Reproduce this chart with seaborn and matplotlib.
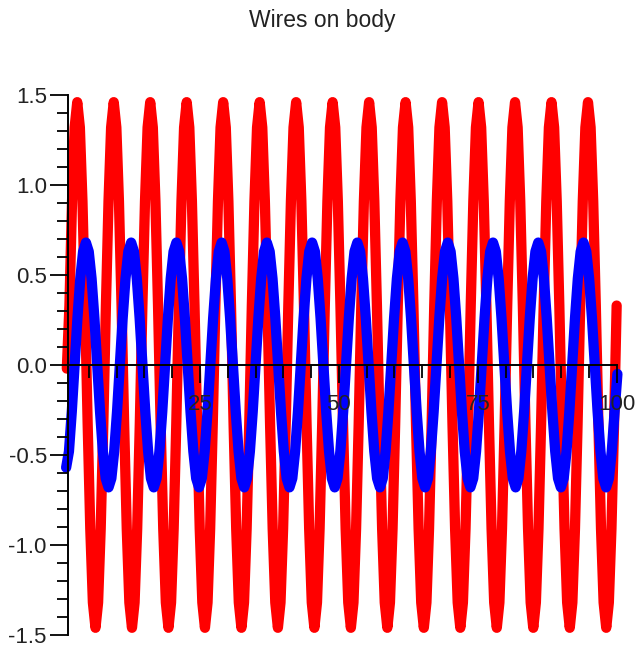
import numpy as np
import pandas as pd
import matplotlib
matplotlib.use("Agg")
import matplotlib.pyplot as plt
from matplotlib.ticker import MultipleLocator
import seaborn as sns

# ---- data ----
title = "Wires on body"

# red trace: sample range along the horizontal axis and sampled values
red_t_start, red_t_end = 1.044, 99.99
red_y = [
    -0.02, 0.33, 0.91, 1.32,
    1.46, 1.32, 0.91, 0.33, -0.33, -0.91, -1.32, -1.46, -1.32, -0.91, -0.33, 0.33, 0.91, 1.32,
    1.46, 1.32, 0.91, 0.33, -0.33, -0.91, -1.32, -1.46, -1.32, -0.91, -0.33, 0.33, 0.91, 1.32,
    1.46, 1.32, 0.91, 0.33, -0.33, -0.91, -1.32, -1.46, -1.32, -0.91, -0.33, 0.33, 0.91, 1.32,
    1.46, 1.32, 0.91, 0.33, -0.33, -0.91, -1.32, -1.46, -1.32, -0.91, -0.33, 0.33, 0.91, 1.32,
    1.46, 1.32, 0.91, 0.33, -0.33, -0.91, -1.32, -1.46, -1.32, -0.91, -0.33, 0.33, 0.91, 1.32,
    1.46, 1.32, 0.91, 0.33, -0.33, -0.91, -1.32, -1.46, -1.32, -0.91, -0.33, 0.33, 0.91, 1.32,
    1.46, 1.32, 0.91, 0.33, -0.33, -0.91, -1.32, -1.46, -1.32, -0.91, -0.33, 0.33, 0.91, 1.32,
    1.46, 1.32, 0.91, 0.33, -0.33, -0.91, -1.32, -1.46, -1.32, -0.91, -0.33, 0.33, 0.91, 1.32,
    1.46, 1.32, 0.91, 0.33, -0.33, -0.91, -1.32, -1.46, -1.32, -0.91, -0.33, 0.33, 0.91, 1.32,
    1.46, 1.32, 0.91, 0.33, -0.33, -0.91, -1.32, -1.46, -1.32, -0.91, -0.33, 0.33, 0.91, 1.32,
    1.46, 1.32, 0.91, 0.33, -0.33, -0.91, -1.32, -1.46, -1.32, -0.91, -0.33, 0.33, 0.91, 1.32,
    1.46, 1.32, 0.91, 0.33, -0.33, -0.91, -1.32, -1.46, -1.32, -0.91, -0.33, 0.33, 0.91, 1.32,
    1.46, 1.32, 0.91, 0.33, -0.33, -0.91, -1.32, -1.46, -1.32, -0.91, -0.33, 0.33, 0.91, 1.32,
    1.46, 1.32, 0.91, 0.33, -0.33, -0.91, -1.32, -1.46, -1.32, -0.91, -0.33, 0.33, 0.91, 1.32,
    1.46, 1.32, 0.91, 0.33, -0.33, -0.91, -1.32, -1.46, -1.32, -0.91, -0.33, 0.33,
]

# blue trace
blue_t_start, blue_t_end = 0.919, 100.125
blue_y = [
    -0.57, -0.48, -0.26, 0.0, 0.26, 0.48, 0.63,
    0.68, 0.63, 0.48, 0.26, 0.0, -0.26, -0.48, -0.63, -0.68, -0.63, -0.48, -0.26, 0.0, 0.26, 0.48, 0.63,
    0.68, 0.63, 0.48, 0.26, 0.0, -0.26, -0.48, -0.63, -0.68, -0.63, -0.48, -0.26, 0.0, 0.26, 0.48, 0.63,
    0.68, 0.63, 0.48, 0.26, 0.0, -0.26, -0.48, -0.63, -0.68, -0.63, -0.48, -0.26, 0.0, 0.26, 0.48, 0.63,
    0.68, 0.63, 0.48, 0.26, 0.0, -0.26, -0.48, -0.63, -0.68, -0.63, -0.48, -0.26, 0.0, 0.26, 0.48, 0.63,
    0.68, 0.63, 0.48, 0.26, 0.0, -0.26, -0.48, -0.63, -0.68, -0.63, -0.48, -0.26, 0.0, 0.26, 0.48, 0.63,
    0.68, 0.63, 0.48, 0.26, 0.0, -0.26, -0.48, -0.63, -0.68, -0.63, -0.48, -0.26, 0.0, 0.26, 0.48, 0.63,
    0.68, 0.63, 0.48, 0.26, 0.0, -0.26, -0.48, -0.63, -0.68, -0.63, -0.48, -0.26, 0.0, 0.26, 0.48, 0.63,
    0.68, 0.63, 0.48, 0.26, 0.0, -0.26, -0.48, -0.63, -0.68, -0.63, -0.48, -0.26, 0.0, 0.26, 0.48, 0.63,
    0.68, 0.63, 0.48, 0.26, 0.0, -0.26, -0.48, -0.63, -0.68, -0.63, -0.48, -0.26, 0.0, 0.26, 0.48, 0.63,
    0.68, 0.63, 0.48, 0.26, 0.0, -0.26, -0.48, -0.63, -0.68, -0.63, -0.48, -0.26, 0.0, 0.26, 0.48, 0.63,
    0.68, 0.63, 0.48, 0.26, 0.0, -0.26, -0.48, -0.63, -0.68, -0.63, -0.48, -0.26, 0.0, 0.26, 0.48, 0.63,
    0.68, 0.63, 0.48, 0.26, 0.0, -0.26, -0.48, -0.63, -0.68, -0.63, -0.48, -0.26, -0.05,
]

x_major_ticks = [25, 50, 75, 100]
x_major_labels = ["25", "50", "75", "100"]
y_major_ticks = [-1.5, -1.0, -0.5, 0.0, 0.5, 1.0, 1.5]
y_major_labels = ["-1.5", "-1.0", "-0.5", "0.0", "0.5", "1.0", "1.5"]

# ---- build tables ----
red_df = pd.DataFrame({"t": np.linspace(red_t_start, red_t_end, len(red_y)), "v": red_y})
blue_df = pd.DataFrame({"t": np.linspace(blue_t_start, blue_t_end, len(blue_y)), "v": blue_y})

sns.set_theme(style="white")
plt.rcParams["font.family"] = ["Liberation Sans", "DejaVu Sans"]
plt.rcParams["axes.unicode_minus"] = False

fig = plt.figure(figsize=(6.35, 6.47), dpi=100)
ax = fig.add_axes([0.1066, 0.01855, 0.8646, 0.8347])

sns.lineplot(data=red_df, x="t", y="v", ax=ax, color="#ff0000", linewidth=7.4,
             sort=False, estimator=None, zorder=1)
sns.lineplot(data=blue_df, x="t", y="v", ax=ax, color="#0000ff", linewidth=7.4,
             sort=False, estimator=None, zorder=1.5)
for ln in ax.lines:
    ln.set_solid_capstyle("round")
    ln.set_solid_joinstyle("round")
    ln.set_clip_on(False)

ax.set_xlim(1.2, 100)
ax.set_ylim(-1.5, 1.5)
ax.set_xlabel("")
ax.set_ylabel("")

for s in ["top", "right"]:
    ax.spines[s].set_visible(False)
ax.spines["bottom"].set_position(("data", 0))
for s in ["left", "bottom"]:
    ax.spines[s].set_color("black")
    ax.spines[s].set_linewidth(1.4)
    ax.spines[s].set_zorder(5)
ax.set_axisbelow(False)

ax.set_xticks(x_major_ticks)
ax.set_xticklabels(x_major_labels)
ax.xaxis.set_minor_locator(MultipleLocator(5))
ax.set_yticks(y_major_ticks)
ax.set_yticklabels(y_major_labels)
ax.yaxis.set_minor_locator(MultipleLocator(0.1))

ax.tick_params(axis="both", which="both", direction="out", color="black", width=1.3,
               labelsize=16, labelcolor="#222222")
ax.tick_params(axis="x", which="major", length=13, pad=8, bottom=True)
ax.tick_params(axis="x", which="minor", length=9, bottom=True)
ax.tick_params(axis="y", which="major", length=13, pad=2, left=True)
ax.tick_params(axis="y", which="minor", length=8, left=True)
for t in ax.get_xticklabels() + ax.get_yticklabels():
    t.set_zorder(6)

fig.text(322 / 635, 1 - 20 / 647, title, ha="center", va="center",
         fontsize=16.5, color="#222222")

fig.savefig("out.png", dpi=100)
